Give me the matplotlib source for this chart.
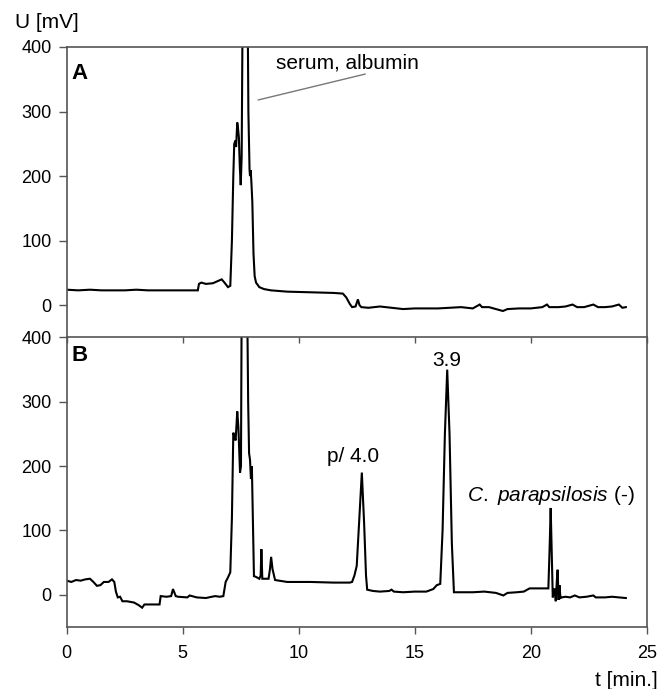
import matplotlib
matplotlib.use("Agg")
import matplotlib.pyplot as plt

plt.rcParams['font.family'] = ['Liberation Sans', 'DejaVu Sans']
plt.rcParams['mathtext.fontset'] = 'custom'
plt.rcParams['mathtext.it'] = 'Liberation Sans:italic'
plt.rcParams['mathtext.rm'] = 'Liberation Sans'

# ---------------- data ----------------
t_A = [0, 0.5, 1.0, 1.5, 2.0, 2.5, 3.0, 3.5, 4.0, 4.5, 5.0, 5.5, 5.65, 5.7, 5.8, 6.0,
       6.3, 6.55, 6.68, 6.8, 6.95, 7.05, 7.12, 7.18, 7.22, 7.27, 7.3, 7.35, 7.38, 7.42,
       7.46, 7.5, 7.54, 7.58, 7.8, 7.83, 7.88, 7.9, 7.93, 7.96, 8.0, 8.05, 8.1, 8.16,
       8.3, 8.5, 8.8, 9.5, 10.5, 11.5, 11.9, 12.05, 12.2, 12.3, 12.45, 12.55, 12.62,
       12.7, 13.0, 13.5, 14.0, 14.5, 15.0, 15.5, 16.0, 16.5, 17.0, 17.5, 17.8, 17.9,
       18.2, 18.5, 18.8, 19.0, 19.5, 20.0, 20.5, 20.7, 20.8, 21.2, 21.5, 21.8, 22.0,
       22.3, 22.7, 22.9, 23.2, 23.5, 23.8, 23.95, 24.1]
U_A = [24, 23, 24, 23, 23, 23, 24, 23, 23, 23, 23, 23, 23, 33, 35, 33,
       34, 38, 40, 35, 28, 30, 100, 200, 250, 255, 245, 283, 275, 260,
       215, 186, 230, 450, 450, 300, 210, 200, 209, 190, 160, 80, 45, 35,
       28, 25, 23, 21, 20, 19, 18, 12, 2, -3, -2, 9, 0,
       -3, -4, -2, -4, -6, -5, -5, -5, -4, -3, -5, 1, -3,
       -3, -6, -9, -6, -5, -5, -3, 1, -3, -3, -2, 1, -3,
       -3, 1, -3, -3, -2, 1, -4, -3]

t_B = [0, 0.2, 0.4, 0.6, 0.8, 1.0, 1.15, 1.3, 1.45, 1.6, 1.8, 1.95, 2.05, 2.12, 2.2,
       2.3, 2.4, 2.6, 2.9, 3.1, 3.25, 3.35, 3.7, 4.0, 4.05, 4.3, 4.5, 4.58, 4.7, 4.8,
       5.2, 5.3, 5.6, 6.0, 6.25, 6.4, 6.6, 6.75, 6.85, 6.95, 7.05, 7.12, 7.18, 7.23,
       7.28, 7.35, 7.4, 7.44, 7.47, 7.51, 7.54, 7.78, 7.82, 7.86, 7.9, 7.94, 7.98,
       8.02, 8.07, 8.15, 8.3, 8.36, 8.39, 8.43, 8.55, 8.7, 8.76, 8.81, 8.87, 8.98,
       9.5, 10.5, 11.5, 12.2, 12.3, 12.4, 12.5, 12.6, 12.72, 12.82, 12.9, 12.95,
       13.2, 13.5, 13.9, 14.0, 14.1, 14.5, 15.0, 15.5, 15.8, 15.95, 16.1, 16.2, 16.3,
       16.4, 16.5, 16.6, 16.69, 17.0, 17.5, 18.0, 18.5, 18.82, 19.0, 19.4, 19.7,
       19.95, 20.2, 20.5, 20.76, 20.82, 20.86, 20.9, 20.95, 21.02, 21.08, 21.13,
       21.16, 21.2, 21.24, 21.28, 21.34, 21.5, 21.7, 21.9, 22.1, 22.4, 22.7, 22.8,
       23.2, 23.5, 23.8, 24.1]
U_B = [22, 20, 23, 22, 24, 25, 20, 14, 15, 20, 20, 24, 20, 5, -4,
       -3, -10, -10, -12, -16, -20, -15, -15, -15, -2, -3, -2, 9, -2, -3,
       -4, -1, -4, -5, -3, -2, -3, -2, 20, 27, 35, 120, 252, 245,
       240, 285, 260, 220, 190, 200, 450, 450, 300, 220, 210, 180, 200,
       120, 29, 28, 25, 30, 71, 25, 25, 25, 40, 59, 40, 23,
       20, 20, 19, 19, 20, 30, 45, 110, 190, 110, 30, 8,
       6, 5, 6, 8, 5, 4, 5, 5, 9, 15, 17, 100, 250,
       350, 250, 80, 4, 4, 4, 5, 3, -1, 3, 4, 5,
       10, 10, 10, 10, 80, 135, 70, -4, 10, -10, 25,
       39, -8, 15, -5, -4, -3, -4, -1, -4, -3, -1, -4,
       -4, -3, -4, -5]

x_ticks = [0, 5, 10, 15, 20, 25]
y_ticks = [0, 100, 200, 300, 400]

# ---------------- figure ----------------
fig = plt.figure(figsize=(6.72, 6.89), dpi=100)
left, width = 0.0993, 0.8631
axA = fig.add_axes([left, 0.5102, width, 0.4216])
axB = fig.add_axes([left, 0.0900, width, 0.4202])

spine_col = '#555555'
for ax in (axA, axB):
    ax.plot(ax is axA and t_A or t_B, ax is axA and U_A or U_B,
            color='black', lw=1.5, solid_joinstyle='miter')
    ax.set_xlim(0, 25)
    ax.set_ylim(-50, 400)
    ax.set_yticks(y_ticks)
    ax.tick_params(axis='y', direction='out', length=6, width=1.0,
                   color=spine_col, labelsize=13, pad=5)
    for s in ax.spines.values():
        s.set_color(spine_col)
        s.set_linewidth(1.2)

axA.set_xticks(x_ticks)
axA.tick_params(axis='x', bottom=False, labelbottom=False)
axA.spines['bottom'].set_visible(False)

axB.set_xticks(x_ticks)
axB.tick_params(axis='x', which='both', bottom=True, top=True, direction='out',
                length=5, width=1.0, color=spine_col, labelsize=13, pad=8)
axB.xaxis.set_tick_params(which='major', top=True)
# inward ticks on top edge of B
for tk in axB.xaxis.get_major_ticks():
    tk.tick2line.set_marker(3)  # TICKDOWN
    tk.tick2line.set_markersize(4)

# panel letters
axA.text(0.008, 0.945, 'A', transform=axA.transAxes, fontsize=16,
         fontweight='bold', ha='left', va='top')
axB.text(0.008, 0.975, 'B', transform=axB.transAxes, fontsize=16,
         fontweight='bold', ha='left', va='top')

# annotations
axA.plot([8.26, 12.86], [318, 358], color='#777777', lw=1.0)
axA.text(9.0, 367, 'serum, albumin', fontsize=15, ha='left', va='baseline')
axB.text(11.2, 206, 'p/ 4.0', fontsize=15, ha='left', va='baseline')
axB.text(16.38, 356, '3.9', fontsize=15, ha='center', va='baseline')
axB.text(17.24, 146, r'$\mathit{C.\ parapsilosis}$ (-)', fontsize=15,
         ha='left', va='baseline')

fig.text(15/672, 1-22/689, 'U [mV]', fontsize=15, ha='left', va='center')
fig.text(658/672, 1-680/689, 't [min.]', fontsize=15, ha='right', va='center')

fig.savefig('out.png', dpi=100)
